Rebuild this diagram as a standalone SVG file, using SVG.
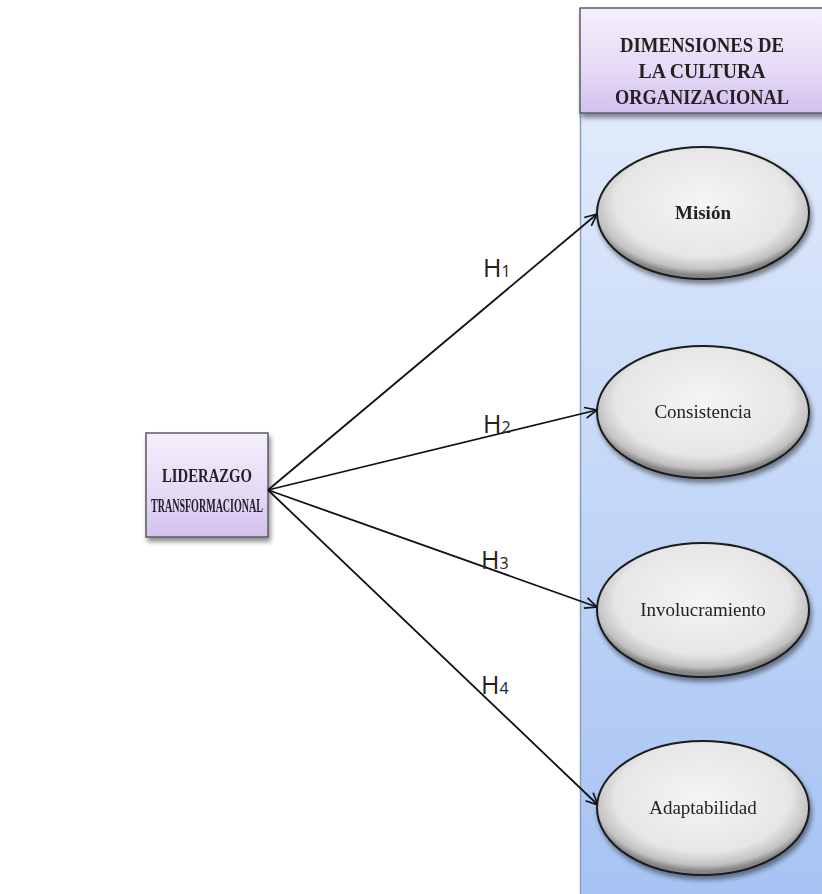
<svg xmlns="http://www.w3.org/2000/svg" width="822" height="894" viewBox="0 0 822 894">
  <defs>
    <linearGradient id="colFill" x1="0" y1="0" x2="0" y2="1">
      <stop offset="0" stop-color="#e0eafb"/>
      <stop offset="1" stop-color="#a6c3f3"/>
    </linearGradient>
    <linearGradient id="purpleFill" x1="0" y1="0" x2="0" y2="1">
      <stop offset="0" stop-color="#f5effc"/>
      <stop offset="0.6" stop-color="#e5d9f5"/>
      <stop offset="1" stop-color="#d2c0ee"/>
    </linearGradient>
    <radialGradient id="ovalFill" cx="0.5" cy="0.42" r="0.55">
      <stop offset="0" stop-color="#f5f5f5"/>
      <stop offset="0.75" stop-color="#e6e6e6"/>
      <stop offset="0.92" stop-color="#c2c2c2"/>
      <stop offset="1" stop-color="#858585"/>
    </radialGradient>
    <filter id="shadow" x="-10%" y="-10%" width="125%" height="130%">
      <feGaussianBlur in="SourceAlpha" stdDeviation="2.5"/>
      <feOffset dx="2" dy="4" result="b"/>
      <feComponentTransfer><feFuncA type="linear" slope="0.45"/></feComponentTransfer>
      <feMerge><feMergeNode/><feMergeNode in="SourceGraphic"/></feMerge>
    </filter>
    <marker id="arrow" viewBox="0 0 14 14" refX="13" refY="7" markerWidth="14" markerHeight="14" markerUnits="userSpaceOnUse" orient="auto">
      <path d="M1,1.5 L13,7 L1,12.5" fill="none" stroke="#111" stroke-width="1.7"/>
    </marker>
    <style>
      .box { fill: url(#purpleFill); stroke: #5a5a66; stroke-width: 1.5; }
      .oval { fill: url(#ovalFill); stroke: #1a1a1a; stroke-width: 2; }
      .title { font-family: "Liberation Serif", "Times New Roman", serif; font-weight: bold; fill: #222; text-anchor: middle; }
      .label { font-family: "Liberation Serif", "Times New Roman", serif; font-size: 19px; fill: #222; text-anchor: middle; }
      .hyp { font-family: "Open Sans", "Liberation Sans", sans-serif; font-size: 25px; fill: #222; }
      .sub { font-size: 16px; }
      .link { stroke: #111; stroke-width: 1.8; fill: none; marker-end: url(#arrow); }
    </style>
  </defs>

  <rect width="822" height="894" fill="#ffffff"/>

  <!-- dimension column -->
  <g id="column">
    <rect x="580" y="112" width="242" height="782" fill="url(#colFill)"/>
    <line x1="580.5" y1="112" x2="580.5" y2="894" stroke="#8d9db6" stroke-width="1.5"/>
  </g>

  <!-- column header -->
  <g id="header" filter="url(#shadow)">
    <rect class="box" x="580" y="8" width="246" height="105"/>
    <text class="title" x="702" y="52" font-size="20" textLength="164" lengthAdjust="spacingAndGlyphs">DIMENSIONES  DE</text>
    <text class="title" x="702" y="78" font-size="20" textLength="127" lengthAdjust="spacingAndGlyphs">LA CULTURA</text>
    <text class="title" x="702" y="104" font-size="20" textLength="174" lengthAdjust="spacingAndGlyphs">ORGANIZACIONAL</text>
  </g>

  <!-- independent variable -->
  <g id="liderazgo" filter="url(#shadow)">
    <rect class="box" x="146" y="433" width="122" height="104"/>
    <text class="title" x="207" y="482" font-size="18" textLength="90" lengthAdjust="spacingAndGlyphs">LIDERAZGO</text>
    <text class="title" x="207" y="512" font-size="18" textLength="112" lengthAdjust="spacingAndGlyphs">TRANSFORMACIONAL</text>
  </g>

  <!-- connectors -->
  <g id="connectors">
    <line class="link" x1="268" y1="490" x2="597" y2="214"/>
    <line class="link" x1="268" y1="490" x2="597" y2="410"/>
    <line class="link" x1="268" y1="490" x2="597" y2="607"/>
    <line class="link" x1="268" y1="490" x2="598" y2="805"/>
    <text class="hyp" x="483" y="277">H<tspan class="sub">1</tspan></text>
    <text class="hyp" x="483" y="433">H<tspan class="sub">2</tspan></text>
    <text class="hyp" x="481" y="569">H<tspan class="sub">3</tspan></text>
    <text class="hyp" x="481" y="694">H<tspan class="sub">4</tspan></text>
  </g>

  <!-- dimensions -->
  <g id="mision" filter="url(#shadow)">
    <ellipse class="oval" cx="703" cy="213" rx="106" ry="66"/>
    <text class="title" x="703" y="219" font-size="19">Misión</text>
  </g>
  <g id="consistencia" filter="url(#shadow)">
    <ellipse class="oval" cx="703" cy="412" rx="106" ry="66"/>
    <text class="label" x="703" y="418">Consistencia</text>
  </g>
  <g id="involucramiento" filter="url(#shadow)">
    <ellipse class="oval" cx="703" cy="610" rx="106" ry="67"/>
    <text class="label" x="703" y="616">Involucramiento</text>
  </g>
  <g id="adaptabilidad" filter="url(#shadow)">
    <ellipse class="oval" cx="703" cy="808" rx="106" ry="67"/>
    <text class="label" x="703" y="814">Adaptabilidad</text>
  </g>
</svg>
